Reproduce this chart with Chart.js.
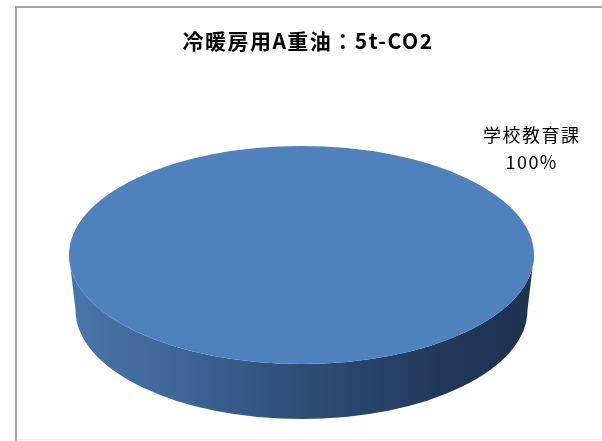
<!DOCTYPE html>
<html>
<head>
<meta charset="utf-8">
<script src="https://cdn.jsdelivr.net/npm/chart.js@4/dist/chart.umd.min.js"></script>
<style>
  html, body { margin: 0; padding: 0; background: #fff; }
  #wrap { width: 602px; height: 441px; position: relative; }
</style>
</head>
<body>
<div id="wrap"><canvas id="c" width="602" height="441"></canvas></div>
<script>
// ---- data ----
const categories = ['学校教育課'];
const seriesValues = [5];            // t-CO2
const chartTitle = '冷暖房用A重油：5t-CO2';

// ---- style / layout constants ----
const CENTER_X = 301.5, CENTER_Y = 255;
const RADIUS = 232.5;
const TILT = 109 / 232.5;
const DEPTH = 55;
const BOTTOM_SHRINK = 226 / 232.5;
const TOP_COLOR = '#4f81bd';

const frame = {
  id: 'frame',
  beforeDraw(chart) {
    const ctx = chart.ctx;
    ctx.save();
    ctx.fillStyle = '#ffffff';
    ctx.fillRect(0, 0, chart.width, chart.height);
    ctx.fillStyle = '#a6a6a6';
    ctx.fillRect(15, 6, 2, chart.height - 6);
    ctx.fillRect(15, 6, chart.width - 15, 2);
    ctx.fillStyle = '#ececec';
    ctx.fillRect(17, 439, chart.width - 17, 1);
    ctx.restore();
    // wider tracking for the title text, like the reference
    if ('letterSpacing' in ctx) ctx.letterSpacing = '1.5px';
  }
};

const pie3d = {
  id: 'pie3d',
  beforeDatasetsDraw(chart) {
    const ctx = chart.ctx;
    if ('letterSpacing' in ctx) ctx.letterSpacing = '0px';
    const arc = chart.getDatasetMeta(0).data[0];
    const r = arc.outerRadius;
    const cx = CENTER_X, cy = CENTER_Y;
    const ry = r * TILT, rb = r * BOTTOM_SHRINK;
    ctx.save();
    const g = ctx.createLinearGradient(cx - r, 0, cx + r, 0);
    g.addColorStop(0, '#4a76ab');
    g.addColorStop(0.25, '#3d6496');
    g.addColorStop(0.5, '#2f4d77');
    g.addColorStop(0.8, '#22385a');
    g.addColorStop(1, '#1e3250');
    ctx.fillStyle = g;
    ctx.beginPath();
    ctx.moveTo(cx - r, cy);
    ctx.lineTo(cx - rb, cy + DEPTH);
    ctx.ellipse(cx, cy + DEPTH, rb, ry, 0, Math.PI, 0, true);
    ctx.lineTo(cx + r, cy);
    ctx.ellipse(cx, cy, r, ry, 0, 0, Math.PI, false);
    ctx.closePath();
    ctx.fill();
    ctx.restore();

    ctx.save();
    ctx.translate(cx, cy);
    ctx.scale(1, TILT);
    ctx.translate(-arc.x, -arc.y);
  },
  afterDatasetsDraw(chart) {
    chart.ctx.restore();
  },
  afterDraw(chart) {
    const ctx = chart.ctx;
    const arc = chart.getDatasetMeta(0).data[0];
    const r = arc.outerRadius;
    const total = seriesValues.reduce((a, b) => a + b, 0);
    const pct = Math.round(seriesValues[0] / total * 100) + '%';
    const lx = CENTER_X + r * 0.99;
    const ly = CENTER_Y - r * TILT * 1.11;
    ctx.save();
    if ('letterSpacing' in ctx) ctx.letterSpacing = '1.5px';
    ctx.fillStyle = '#000000';
    ctx.textAlign = 'center';
    ctx.textBaseline = 'middle';
    ctx.font = '18px "Noto Sans CJK JP"';
    ctx.fillText(categories[0], lx, ly + 1);
    ctx.fillText(pct, lx, ly + 28);
    ctx.restore();
  }
};

new Chart(document.getElementById('c'), {
  type: 'pie',
  data: {
    labels: categories,
    datasets: [{
      data: seriesValues,
      backgroundColor: [TOP_COLOR],
      borderWidth: 0,
      radius: RADIUS
    }]
  },
  options: {
    responsive: false,
    animation: false,
    events: [],
    layout: { padding: { left: 14, right: 0, top: 0, bottom: 0 } },
    plugins: {
      legend: { display: false },
      tooltip: { enabled: false },
      title: {
        display: true,
        text: chartTitle,
        color: '#000000',
        font: { family: '"Noto Sans CJK JP"', size: 21, weight: 'bold' },
        padding: { top: 28, bottom: 10 }
      }
    }
  },
  plugins: [frame, pie3d]
});
</script>
</body>
</html>
